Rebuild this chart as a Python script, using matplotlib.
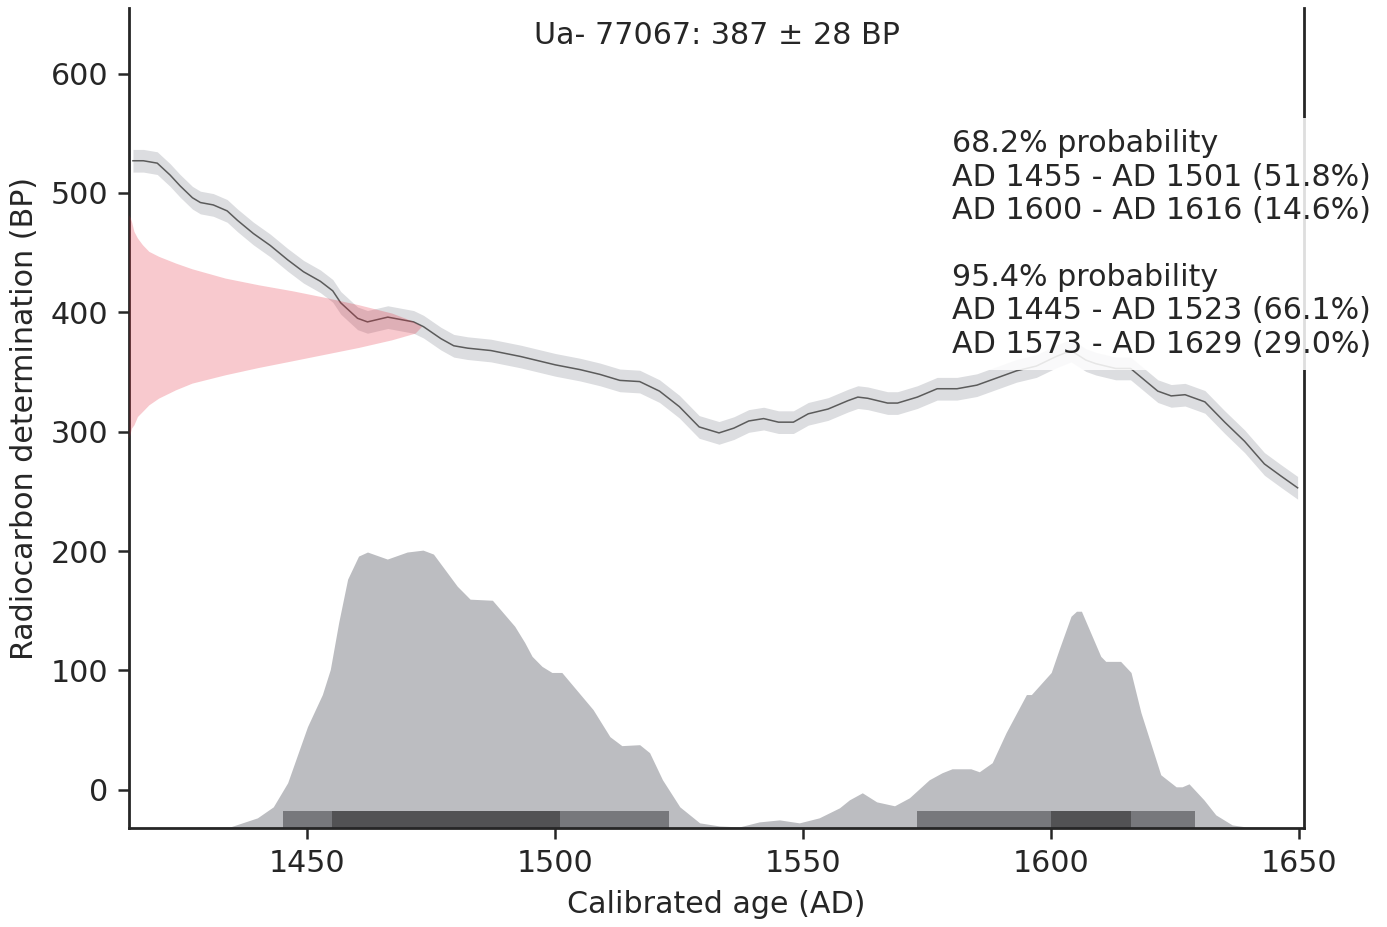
import matplotlib
matplotlib.use("Agg")
import matplotlib.pyplot as plt
import numpy as np

# calibration curve (year AD, BP)
curve_year = [1414.8, 1416.9, 1419.7, 1422.3, 1424.3, 1426.8, 1428.4, 1431.0, 1433.8, 1435.9,
              1439.1, 1442.5, 1446.0, 1449.2, 1452.6, 1455.1, 1456.7, 1460.1, 1462.1, 1466.2,
              1471.4, 1473.4, 1476.9, 1479.5, 1482.3, 1487.0, 1493.0, 1500.0, 1505.0, 1509.0,
              1513.0, 1517.0, 1521.0, 1525.0, 1529.0, 1533.0, 1536.0, 1539.0, 1542.0, 1545.0,
              1548.0, 1551.0, 1555.0, 1559.0, 1561.0, 1563.0, 1567.0, 1569.0, 1573.0, 1577.0,
              1581.0, 1585.0, 1589.0, 1593.0, 1597.0, 1601.0, 1604.0, 1607.0, 1609.0, 1613.0,
              1616.0, 1621.5, 1624.2, 1627.0, 1631.0, 1635.0, 1639.0, 1643.0, 1646.3, 1649.7]
curve_bp = [527, 527, 525, 515, 506, 496, 492, 490, 485, 477,
            466, 456, 444, 434, 426, 418, 408, 395, 392, 396,
            392, 388, 378, 372, 370, 368, 363, 356, 352, 348,
            343, 342, 334, 321, 304, 299, 303, 309, 311, 308,
            308, 315, 319, 326, 329, 328, 324, 324, 329, 336,
            336, 339, 345, 351, 355, 363, 368, 360, 357, 353,
            353, 334, 330, 331, 325, 308, 292, 273, 263, 253]
curve_sigma = 9.5

red_bp = [294.6, 303.0, 305.8, 312.7, 316.9, 322.5, 328.2, 335.1, 340.7, 347.7, 353.8, 359.4,
          365.0, 370.6, 377.0, 382.6, 388.2, 393.0, 399.4, 406.4, 412.5, 418.1, 423.1, 428.7,
          436.5, 441.3, 446.9, 451.1, 456.7, 462.3, 467.8, 476.2, 481.8]
red_width = [0.0, 0.5, 1.0, 1.7, 2.7, 4.0, 6.0, 9.4, 12.7, 19.4, 26.1, 32.9,
             39.6, 46.3, 53.0, 57.7, 59.0, 57.0, 53.0, 46.3, 39.6, 32.9, 26.1, 19.4,
             12.7, 9.4, 6.0, 4.0, 2.7, 1.7, 1.0, 0.5, 0.0]

# calibrated probability (drawn on the BP scale)
prob_year = [1414.0, 1434.4, 1439.9, 1443.1, 1446.0, 1450.0, 1453.0, 1454.6, 1456.3, 1458.1,
             1460.3, 1462.1, 1466.1, 1470.1, 1473.3, 1475.4, 1480.2, 1482.8, 1487.3, 1491.8,
             1493.8, 1495.3, 1497.3, 1499.3, 1501.3, 1507.6, 1511.0, 1513.4, 1517.0, 1519.0,
             1521.6, 1525.1, 1529.1, 1533.1, 1537.1, 1541.1, 1545.2, 1549.2, 1553.2, 1557.3,
             1559.3, 1561.9, 1564.8, 1568.4, 1571.4, 1575.4, 1578.0, 1580.0, 1583.8, 1585.5,
             1588.1, 1590.9, 1595.0, 1596.0, 1600.0, 1601.6, 1604.0, 1605.1, 1606.1, 1610.0,
             1611.0, 1614.0, 1616.1, 1618.1, 1622.1, 1625.2, 1626.4, 1627.8, 1630.8, 1633.2,
             1636.5, 1639.3, 1651.0]
prob_val = [-32.0, -31.1, -23.5, -14.3, 5.9, 52.9, 79.8, 100.8, 140.3, 176.5,
            195.8, 199.2, 193.3, 199.2, 200.8, 197.5, 170.6, 159.7, 158.8, 137.0,
            123.5, 111.8, 103.4, 98.3, 98.3, 67.2, 44.5, 37.0, 37.8, 31.1,
            8.4, -14.3, -27.7, -30.3, -31.1, -26.9, -25.2, -27.7, -23.5, -15.1,
            -8.4, -2.5, -10.1, -13.4, -6.7, 8.4, 14.3, 17.6, 17.6, 15.1,
            22.7, 47.9, 79.8, 79.8, 98.3, 117.6, 145.4, 149.6, 149.6, 111.8,
            107.6, 107.6, 98.3, 64.7, 12.6, 2.5, 2.5, 5.0, -8.4, -21.0,
            -29.4, -31.1, -32.0]

range95 = [(1445, 1523), (1573, 1629)]
range68 = [(1455, 1501), (1600, 1616)]

title = "Ua- 77067: 387 \u00b1 28 BP"
summary = ("68.2% probability\n"
           "AD 1455 - AD 1501 (51.8%)\n"
           "AD 1600 - AD 1616 (14.6%)\n"
           "\n"
           "95.4% probability\n"
           "AD 1445 - AD 1523 (66.1%)\n"
           "AD 1573 - AD 1629 (29.0%)")

xmin, xmax = 1414, 1651
ymin, ymax = -32, 655
fs = 21.7

plt.rcParams['font.family'] = ['DejaVu Sans']
plt.rcParams['text.color'] = '#262626'
plt.rcParams['axes.labelcolor'] = '#262626'
plt.rcParams['xtick.color'] = '#262626'
plt.rcParams['ytick.color'] = '#262626'

fig = plt.figure(figsize=(13.87, 9.27), dpi=100)
ax = fig.add_axes([0.093, 0.1068, 0.8472, 0.8846])

cy = np.array(curve_year)
cb = np.array(curve_bp)
ax.fill_between(cy, cb - curve_sigma, cb + curve_sigma, color='#dcdde0', lw=0, zorder=1)
ax.plot(cy, cb, color='#5b5b5b', lw=1.1, zorder=2)

ax.fill_betweenx(red_bp, xmin, xmin + np.array(red_width), color='#e6283c', alpha=0.25,
                 lw=0, zorder=3)

ax.fill_between(prob_year, ymin, prob_val, color='#bcbdc1', lw=0, zorder=1)
for a, b in range95:
    ax.fill_between([a, b], ymin, -18, color='#77787c', lw=0, zorder=2)
for a, b in range68:
    ax.fill_between([a, b], ymin, -18, color='#525254', lw=0, zorder=2)

ax.set_xlim(xmin, xmax)
ax.set_ylim(ymin, ymax)
ax.set_xticks([1450, 1500, 1550, 1600, 1650])
ax.set_yticks([0, 100, 200, 300, 400, 500, 600])
ax.spines['top'].set_visible(False)
for s in ['left', 'bottom', 'right']:
    ax.spines[s].set_linewidth(2)
    ax.spines[s].set_color('#262626')
ax.tick_params(labelsize=fs, length=8, width=1.8, pad=7)
ax.tick_params(axis='y', right=False)

ax.set_xlabel("Calibrated age (AD)", fontsize=fs, labelpad=9)
ax.set_ylabel("Radiocarbon determination (BP)", fontsize=fs, labelpad=8)

ax.text(0.5, 0.967, title, transform=ax.transAxes, ha='center', va='center', fontsize=fs)
ax.text(0.7004, 0.852, summary, transform=ax.transAxes, ha='left', va='top', fontsize=fs,
        linespacing=1.19, clip_on=False, zorder=5,
        bbox=dict(facecolor='white', edgecolor='none', alpha=0.85, pad=8))

fig.savefig("out.png", dpi=100)
